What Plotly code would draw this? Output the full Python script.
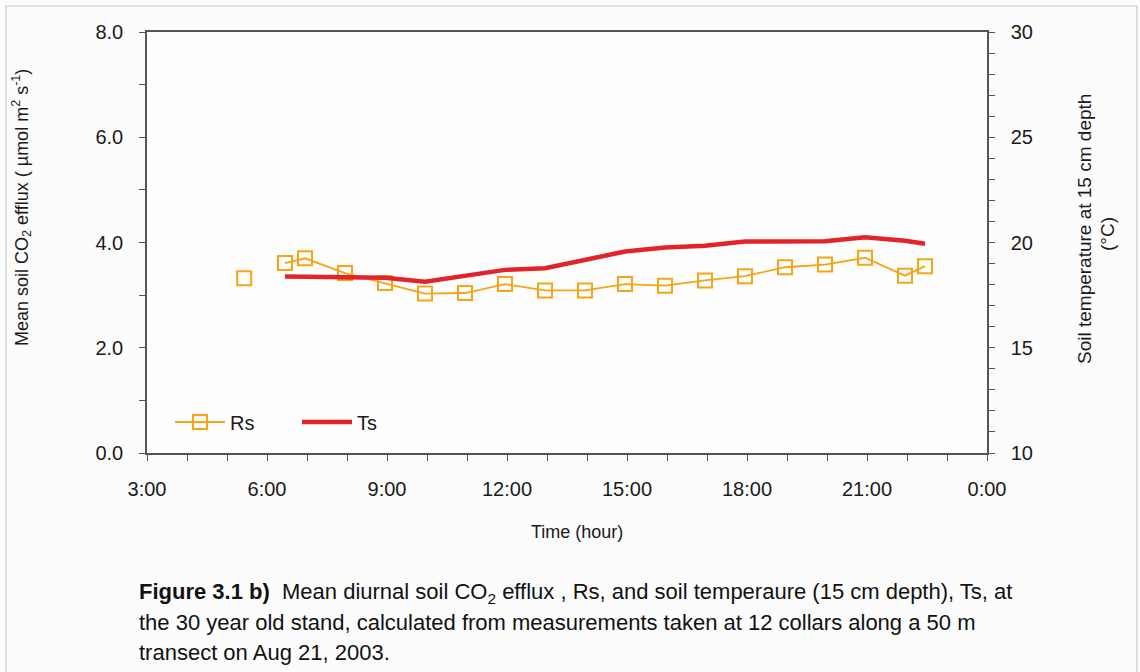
import plotly.graph_objects as go

# Mean diurnal soil CO2 efflux (Rs) and soil temperature at 15 cm (Ts)
rs_hours = [5.43, 6.45, 6.95, 7.95, 8.95, 9.95, 10.95, 11.95, 12.95, 13.95,
            14.95, 15.95, 16.95, 17.95, 18.95, 19.95, 20.95, 21.95, 22.45]
rs_values = [3.32, 3.61, 3.70, 3.42, 3.23, 3.03, 3.04, 3.21, 3.09, 3.09,
             3.21, 3.18, 3.28, 3.36, 3.53, 3.58, 3.71, 3.37, 3.55]

ts_hours = [6.45, 6.95, 7.95, 8.95, 9.95, 10.95, 11.95, 12.95, 13.95, 14.95,
            15.95, 16.95, 17.95, 18.95, 19.95, 20.95, 21.95, 22.45]
ts_values = [18.38, 18.36, 18.35, 18.32, 18.14, 18.42, 18.70, 18.78, 19.20, 19.57,
             19.76, 19.85, 20.05, 20.05, 20.06, 20.25, 20.08, 19.94]

x_tick_hours = [3, 6, 9, 12, 15, 18, 21, 24]
x_tick_labels = ["3:00", "6:00", "9:00", "12:00", "15:00", "18:00", "21:00", "0:00"]

caption_lines = [
    "<b>Figure 3.1 b)</b>  Mean diurnal soil CO<sub>2</sub> efflux , Rs, and soil temperaure (15 cm depth), Ts, at",
    "the 30 year old stand, calculated from measurements taken at 12 collars along a 50 m",
    "transect on Aug 21, 2003.",
]

W, H = 1140, 672
L, R, T, B = 147, 987, 32, 453  # plot area edges in pixels

def px(x):
    return (x - L) / (R - L)

def py(y):
    return (B - y) / (B - T)

FONT = "Liberation Sans, Arial, sans-serif"
RS_COLOR = "#F7A414"
TS_COLOR = "#E3232B"
AXIS_COLOR = "#555555"

# The first Rs reading stands apart from the rest of the series
rs_x = [rs_hours[0], None] + rs_hours[1:]
rs_y = [rs_values[0], None] + rs_values[1:]

fig = go.Figure()
fig.add_trace(go.Scatter(
    x=rs_x, y=rs_y, name="Rs", mode="lines+markers",
    line=dict(color=RS_COLOR, width=1.8),
    marker=dict(symbol="square-open", size=14, color=RS_COLOR, line=dict(width=2)),
    connectgaps=False,
))
fig.add_trace(go.Scatter(
    x=ts_hours, y=ts_values, name="Ts", mode="lines", yaxis="y2",
    line=dict(color=TS_COLOR, width=4.5),
))

tick_font = dict(family=FONT, size=20, color="#1a1a1a")
minor_ticks = dict(dtick=1, ticks="outside", ticklen=6, tickcolor=AXIS_COLOR, tickwidth=1)

fig.update_layout(
    width=W, height=H,
    margin=dict(l=L, r=W - R, t=T, b=H - B),
    paper_bgcolor="#FCFCFC",
    plot_bgcolor="#FEFEFE",
    font=dict(family=FONT, color="#1a1a1a"),
    xaxis=dict(
        range=[3, 24], tickvals=x_tick_hours, ticktext=x_tick_labels,
        showgrid=False, zeroline=False,
        showline=True, linecolor=AXIS_COLOR, linewidth=1.5, mirror=True,
        ticks="outside", ticklen=6, tickcolor=AXIS_COLOR, tickwidth=1,
        minor=minor_ticks, tickfont=tick_font, ticklabelstandoff=11,
    ),
    yaxis=dict(
        range=[0, 8], dtick=2, tickformat=".1f",
        showgrid=False, zeroline=False,
        showline=True, linecolor=AXIS_COLOR, linewidth=1.5,
        ticks="outside", ticklen=6, tickcolor=AXIS_COLOR, tickwidth=1,
        minor=minor_ticks, tickfont=tick_font, ticklabelstandoff=12,
    ),
    yaxis2=dict(
        range=[10, 30], dtick=5, overlaying="y", side="right",
        showgrid=False, zeroline=False,
        showline=True, linecolor=AXIS_COLOR, linewidth=1.5,
        ticks="outside", ticklen=6, tickcolor=AXIS_COLOR, tickwidth=1,
        minor=minor_ticks, tickfont=tick_font, ticklabelstandoff=12,
    ),
    legend=dict(
        orientation="h", x=px(170), y=py(422), xanchor="left", yanchor="middle",
        bgcolor="rgba(0,0,0,0)", font=dict(family=FONT, size=20, color="#1a1a1a"),
        itemwidth=50, entrywidth=62,
    ),
    showlegend=True,
)

title_font = dict(family=FONT, size=18, color="#1a1a1a")
annotations = [
    dict(text="Time (hour)", x=px(577), y=py(532), font=title_font),
    dict(text="Mean soil CO<sub>2</sub> efflux ( \u00b5mol m<sup>2</sup> s<sup>-1</sup>)",
         x=px(22), y=py(208), textangle=-90, font=title_font),
    dict(text="Soil temperature at 15 cm depth", x=px(1084), y=py(229),
         textangle=-90, font=dict(family=FONT, size=19, color="#1a1a1a")),
    dict(text="(\u00b0C)", x=px(1107), y=py(234), textangle=-90,
         font=dict(family=FONT, size=19, color="#1a1a1a")),
]
for a in annotations:
    a.update(xref="paper", yref="paper", xanchor="center", yanchor="middle", showarrow=False)

for i, line in enumerate(caption_lines):
    annotations.append(dict(
        text=line, x=px(137), y=py(593 + 29.5 * i), xref="paper", yref="paper",
        xanchor="left", yanchor="middle", align="left", showarrow=False,
        font=dict(family=FONT, size=22, color="#111111"),
    ))
fig.update_layout(annotations=annotations)

# Light frame around the whole figure
fig.add_shape(type="rect", xref="paper", yref="paper",
              x0=px(6), x1=px(1137), y0=py(680), y1=py(6),
              line=dict(color="#C8C8C8", width=1.2), fillcolor="rgba(0,0,0,0)", layer="below")

fig.write_html("out.html")
